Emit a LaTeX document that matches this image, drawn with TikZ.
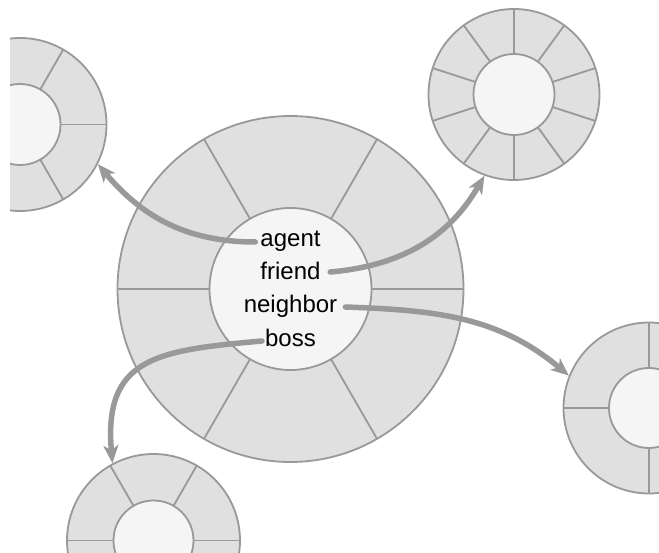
\documentclass[tikz,border=0pt]{standalone}
\usepackage{fontspec}
\setmainfont{Liberation Sans}
\usetikzlibrary{arrows.meta,calc}
\definecolor{ringfill}{HTML}{E0E0E0}
\definecolor{hubfill}{HTML}{F5F5F5}
\definecolor{edgegray}{HTML}{999999}
\newcommand\wheelx[6]{%
  \node[ring,minimum size=#4*2pt] (#1) at (#2,#3) {};
  \foreach \a in {#6} \draw[spoke] ($(#1.center)+(\a:#5)$) -- ($(#1.center)+(\a:#4)$);
  \node[hub,minimum size=#5*2pt] (#1hub) at (#2,#3) {};
}
\begin{document}
\begin{tikzpicture}[x=1pt,y=1pt,
  ring/.style={circle,draw=edgegray,fill=ringfill,line width=1.8pt,inner sep=0pt},
  hub/.style={circle,draw=edgegray,fill=hubfill,line width=1.8pt,inner sep=0pt},
  spoke/.style={draw=edgegray,line width=1.8pt},
  link/.style={draw=edgegray,line width=5.5pt,line cap=round,-{Stealth[length=18pt,width=15pt,inset=5pt]}},
  lbl/.style={inner sep=0pt,anchor=base,font=\fontsize{24}{28}\selectfont}]
\useasboundingbox (0,0) rectangle (659,552);
\clip (10,0) rectangle (659,552);
\wheelx{main}{290.5}{263}{173}{81}{0,60,...,300}
\wheelx{tl}{20}{427.5}{86.5}{40.5}{0,60,...,300}
\wheelx{tr}{514}{457.5}{85.5}{40.5}{18,54,...,342}
\wheelx{rc}{649}{144}{85.5}{40}{0,90,180,270}
\wheelx{bl}{153.5}{11.5}{86.5}{40}{0,60,...,300}
\node[lbl] (agent) at (290.5,305.5) {agent};
\node[lbl] (friend) at (290.5,272) {friend};
\node[lbl] (neighbor) at (290.5,239) {neighbor};
\node[lbl] (boss) at (290.5,205.5) {boss};
\draw[link] ([shift={(-5,4.5)}]agent.base west) to[out=180,in=-50] (tl.-27);
\draw[link] ([shift={(9.5,8)}]friend.base east) to[out=5,in=240] (tr.250);
\draw[link] ([shift={(8,6)}]neighbor.base east) to[out=-2,in=140] (rc.158);
\draw[link] ([shift={(-3,5.5)}]boss.base west) to[out=185,in=95,looseness=1.4] (bl.118);
\end{tikzpicture}
\end{document}
